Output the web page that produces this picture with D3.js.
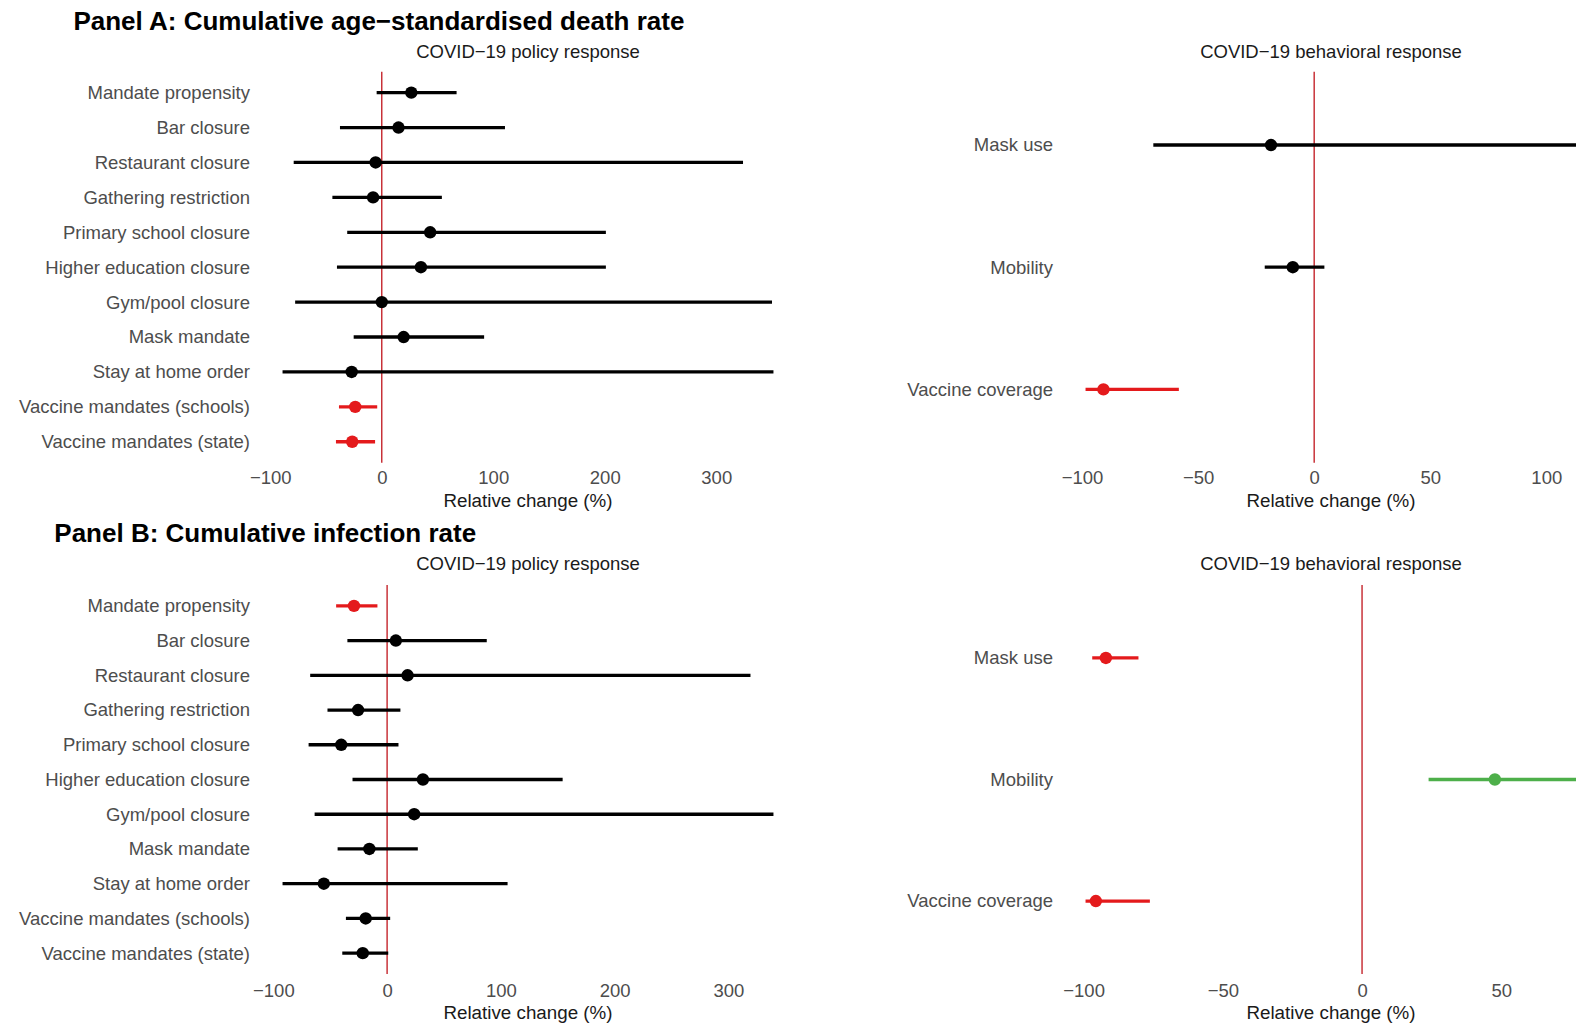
<!DOCTYPE html>
<html>
<head>
<meta charset="utf-8">
<script src="https://cdn.jsdelivr.net/npm/d3@7"></script>
<style>
  body { margin: 0; background: #fff; }
  svg { display: block; font-family: "Liberation Sans", Arial, Helvetica, sans-serif; }
</style>
</head>
<body>
<svg id="chart" width="1576" height="1024"></svg>
<script>
// ---- Categories ----
const policyCategories = [
  "Mandate propensity", "Bar closure", "Restaurant closure", "Gathering restriction",
  "Primary school closure", "Higher education closure", "Gym/pool closure",
  "Mask mandate", "Stay at home order", "Vaccine mandates (schools)", "Vaccine mandates (state)"
];
const behaviorCategories = ["Mask use", "Mobility", "Vaccine coverage"];

// ---- Panel A: cumulative age-standardised death rate (relative change, %) ----
const deathPolicyEst  = [26.5, 15, -5.5, -7.8, 43.4, 35.1, 0, 19.6, -27, -23.8, -26.5];
const deathPolicyLow  = [-4.6, -37.5, -79, -44.3, -31, -40.2, -77.7, -25.2, -89, -38.4, -41.1];
const deathPolicyHigh = [67.1, 110.5, 324, 53.9, 201, 201, 350, 91.8, 351.3, -4.1, -6];

const deathBehaviorEst  = [-18.6, -9.2, -90.8];
const deathBehaviorLow  = [-69.3, -21.3, -98.5];
const deathBehaviorHigh = [113, 4.4, -58.3];

// ---- Panel B: cumulative infection rate (relative change, %) ----
const infectionPolicyEst  = [-29.1, 7.7, 18, -25.5, -40.3, 31.5, 23.8, -15.6, -55.6, -18.8, -21.4];
const infectionPolicyLow  = [-44.8, -34.9, -67.6, -52.4, -69, -30.4, -63.7, -43.5, -91.9, -36.2, -39.4];
const infectionPolicyHigh = [-8.5, 87.6, 319.4, 11.7, 10, 154.3, 339.6, 27, 105.9, 2.7, 1];

const infectionBehaviorEst  = [-92, 47.7, -95.6];
const infectionBehaviorLow  = [-96.9, 23.9, -99.3];
const infectionBehaviorHigh = [-80.3, 77, -76.2];

// ---- Tick values ----
const policyTicks = [-100, 0, 100, 200, 300];
const deathBehaviorTicks = [-100, -50, 0, 50, 100];
const infectionBehaviorTicks = [-100, -50, 0, 50, 100];

// ---- Text ----
const panelTitles = ["Panel A: Cumulative age\u2212standardised death rate", "Panel B: Cumulative infection rate"];
const policySubtitle = "COVID\u221219 policy response";
const behaviorSubtitle = "COVID\u221219 behavioral response";
const xAxisTitle = "Relative change (%)";

// ---- Styling ----
const COL_NEG = "#E41A1C", COL_POS = "#4DAF4A", COL_NS = "#000000";
const PANEL_W = 540;
const LABEL_SIZE = 18.5;

function zip(cats, est, lo, hi) {
  return cats.map((c, i) => ({ cat: c, est: est[i], lo: lo[i], hi: hi[i] }));
}

const panels = [
  { rows: zip(policyCategories, deathPolicyEst, deathPolicyLow, deathPolicyHigh),
    left: 258, top: 71.7, bottom: 462.7, ticks: policyTicks, pad: 8, sub: policySubtitle,
    subY: 58.3, axTitleY: 507 },
  { rows: zip(behaviorCategories, deathBehaviorEst, deathBehaviorLow, deathBehaviorHigh),
    left: 1061, top: 71.7, bottom: 462.7, ticks: deathBehaviorTicks, pad: 8, sub: behaviorSubtitle,
    subY: 58.3, axTitleY: 507 },
  { rows: zip(policyCategories, infectionPolicyEst, infectionPolicyLow, infectionPolicyHigh),
    left: 258, top: 585, bottom: 974, ticks: policyTicks, pad: 10, sub: policySubtitle,
    subY: 570, axTitleY: 1019 },
  { rows: zip(behaviorCategories, infectionBehaviorEst, infectionBehaviorLow, infectionBehaviorHigh),
    left: 1061, top: 585, bottom: 974, ticks: infectionBehaviorTicks, pad: 10, sub: behaviorSubtitle,
    subY: 570, axTitleY: 1019 }
];

const svg = d3.select("#chart");

// Panel headings
svg.append("text").attr("x", 73.4).attr("y", 30)
  .attr("font-size", 26).attr("font-weight", "bold").attr("fill", "#000")
  .text(panelTitles[0]);
svg.append("text").attr("x", 54.3).attr("y", 541.7)
  .attr("font-size", 26).attr("font-weight", "bold").attr("fill", "#000")
  .text(panelTitles[1]);

function colorOf(d) {
  if (d.hi < 0) return COL_NEG;
  if (d.lo > 0) return COL_POS;
  return COL_NS;
}

panels.forEach(p => {
  const g = svg.append("g");
  const lo = d3.min(p.rows, d => d.lo), hi = d3.max(p.rows, d => d.hi);
  const ext = (hi - lo) * 0.05;
  const x = d3.scaleLinear().domain([lo - ext, hi + ext]).range([p.left, p.left + PANEL_W]);
  const y = d3.scalePoint().domain(p.rows.map(d => d.cat)).range([p.top, p.bottom]).padding(0.6);
  const cx = p.left + PANEL_W / 2;

  // subtitle
  g.append("text").attr("x", cx).attr("y", p.subY).attr("text-anchor", "middle")
    .attr("font-size", LABEL_SIZE).attr("fill", "#1a1a1a").text(p.sub);

  // zero reference line
  g.append("line")
    .attr("x1", x(0)).attr("x2", x(0)).attr("y1", p.top).attr("y2", p.bottom)
    .attr("stroke", "#C0141C").attr("stroke-width", 1.3);

  // category axis
  const ya = g.append("g").attr("transform", `translate(${p.left},0)`)
    .call(d3.axisLeft(y).tickSize(0).tickPadding(8));
  ya.select(".domain").remove();
  ya.attr("font-size", null).attr("font-family", null);
  ya.selectAll("text").attr("font-size", LABEL_SIZE).attr("fill", "#4D4D4D");

  // value axis
  const xa = g.append("g").attr("transform", `translate(0,${p.bottom})`)
    .call(d3.axisBottom(x).tickValues(p.ticks.filter(t => t >= x.domain()[0] && t <= x.domain()[1]))
      .tickFormat(d3.format("d")).tickSize(0).tickPadding(p.pad));
  xa.select(".domain").remove();
  xa.attr("font-size", null).attr("font-family", null);
  xa.selectAll("text").attr("font-size", LABEL_SIZE).attr("fill", "#4D4D4D");

  g.append("text").attr("x", cx).attr("y", p.axTitleY).attr("text-anchor", "middle")
    .attr("font-size", 18.8).attr("fill", "#1a1a1a").text(xAxisTitle);

  // confidence intervals
  g.selectAll("line.ci").data(p.rows).join("line").attr("class", "ci")
    .attr("x1", d => x(d.lo)).attr("x2", d => x(d.hi))
    .attr("y1", d => y(d.cat)).attr("y2", d => y(d.cat))
    .attr("stroke", colorOf).attr("stroke-width", 3.3);

  // point estimates
  g.selectAll("circle.est").data(p.rows).join("circle").attr("class", "est")
    .attr("cx", d => x(d.est)).attr("cy", d => y(d.cat)).attr("r", 6.2)
    .attr("fill", colorOf);
});
</script>
</body>
</html>
